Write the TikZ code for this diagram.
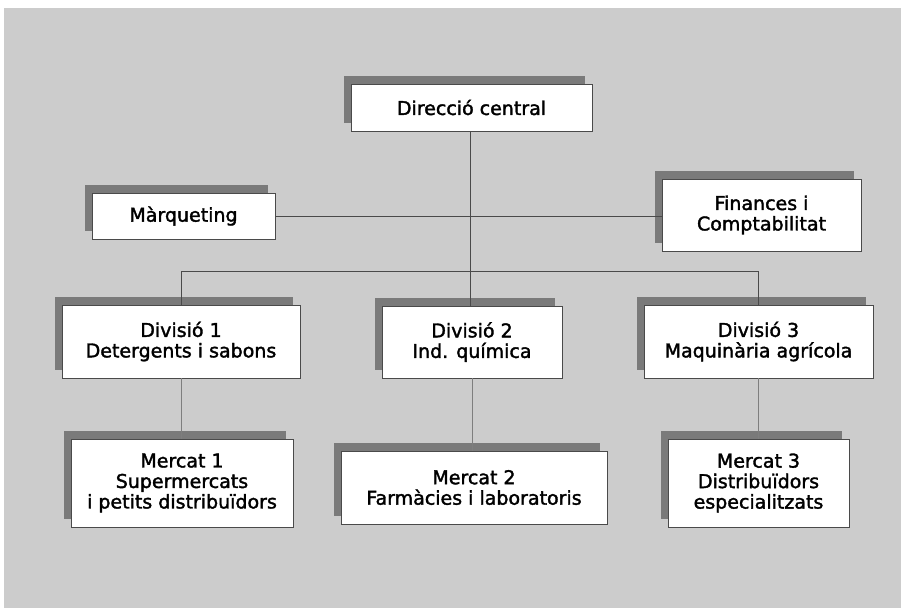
\documentclass[tikz,border=0pt]{standalone}
\usepackage{fontspec}
\setmainfont{DejaVu Sans}[FakeBold=1.8]
\usetikzlibrary{shadows}
\definecolor{bggray}{HTML}{CCCCCC}
\definecolor{shadowgray}{HTML}{7A7A7A}
\definecolor{linegray}{HTML}{4A4A4A}
\definecolor{lightline}{HTML}{7E7E7E}
\tikzset{
  orgbox/.style={draw=linegray, line width=0.7pt, fill=white, align=center,
    inner sep=0pt, font=\fontsize{19}{20.5}\selectfont,
    general shadow={fill=shadowgray, shadow xshift=-7pt, shadow yshift=8pt}},
  mainline/.style={draw=linegray, line width=1pt},
  subline/.style={draw=lightline, line width=0.8pt}
}
\begin{document}
\begin{tikzpicture}[x=1pt,y=-1pt]
\useasboundingbox (0,0) rectangle (901,608);
\fill[white] (0,0) rectangle (901,608);
\fill[bggray] (4,8) rectangle (901,608);

\node[orgbox, minimum width=241pt, minimum height=47pt] (dc) at (471.5,107.5) {Direcció central};
\node[orgbox, minimum width=183pt, minimum height=46pt] (mq) at (183.5,216) {Màrqueting};
\node[orgbox, minimum width=199pt, minimum height=72pt] (fc) at (761.5,215) {Finances i\\Comptabilitat};

\node[orgbox, minimum width=238pt, minimum height=73pt] (d1) at (181,341.5) {Divisió 1\\Detergents i sabons};
\node[orgbox, minimum width=180pt, minimum height=72pt] (d2) at (472,342) {Divisió 2\\Ind. química};
\node[orgbox, minimum width=229pt, minimum height=73pt] (d3) at (758.5,341.5) {Divisió 3\\Maquinària agrícola};

\node[orgbox, minimum width=222pt, minimum height=88pt] (m1) at (182,483) {Mercat 1\\Supermercats\\i petits distribuïdors};
\node[orgbox, minimum width=266pt, minimum height=73pt] (m2) at (474,487.5) {Mercat 2\\Farmàcies i laboratoris};
\node[orgbox, minimum width=181pt, minimum height=88pt] (m3) at (758.5,483) {Mercat 3\\Distribuïdors\\especialitzats};

\coordinate (bus) at (0,271);

\draw[mainline] ([xshift=-1pt]dc.south) -- ([xshift=-1pt]dc.south |- d2.north);
\draw[mainline] (mq.east) -- (mq.east -| fc.west);
\draw[mainline] (d1.north) -- (d1.north |- bus) -- (d3.north |- bus) -- (d3.north);
\draw[subline] (d1.south) -- (d1.south |- m1.north);
\draw[subline] (d2.south) -- (d2.south |- m2.north);
\draw[subline] (d3.south) -- (d3.south |- m3.north);
\end{tikzpicture}
\end{document}
